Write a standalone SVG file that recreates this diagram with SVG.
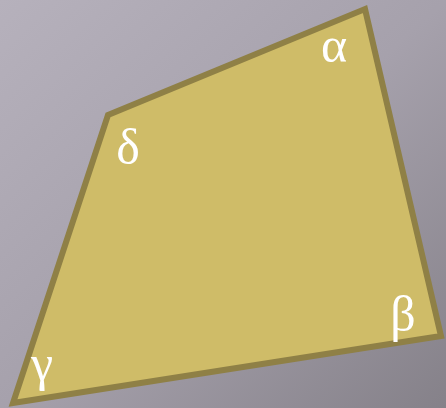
<svg xmlns="http://www.w3.org/2000/svg" width="446" height="408" viewBox="0 0 446 408">
<style>
.lbl{font-family:"Liberation Serif","DejaVu Serif",serif;font-size:50px;fill:#ffffff;text-anchor:middle}
.quad{fill:#CFBC68;stroke:#8F8046;stroke-width:6;stroke-linejoin:miter}
</style>
<defs>
<linearGradient id="bg" x1="0" y1="0" x2="1" y2="1">
<stop offset="0" stop-color="#B6B1BC"/>
<stop offset="0.5" stop-color="#A6A1AC"/>
<stop offset="1" stop-color="#858189"/>
</linearGradient>
</defs>
<rect width="446" height="408" fill="url(#bg)"/>
<g id="quadrilateral">
<polygon class="quad" points="365,9 441,336 13,403 108,115"/>
</g>
<g id="labels">
<text class="lbl" x="334" y="62">α</text>
<text class="lbl" x="403" y="331">β</text>
<text class="lbl" x="42" y="380">γ</text>
<text class="lbl" x="128" y="164">δ</text>
</g>
</svg>
